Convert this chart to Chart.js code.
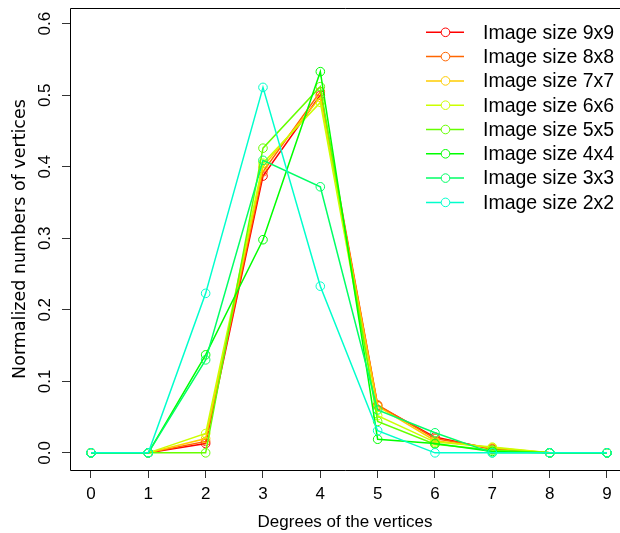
<!DOCTYPE html>
<html>
<head>
<meta charset="utf-8">
<script src="https://cdn.jsdelivr.net/npm/chart.js@4"></script>
<style>
  html, body { margin: 0; padding: 0; background: #fff; }
  #wrap { width: 620px; height: 533px; }
</style>
</head>
<body>
<div id="wrap"><canvas id="grafico"></canvas></div>
<script>
// Dados
const degrees = [0, 1, 2, 3, 4, 5, 6, 7, 8, 9];
const xTicks = [0, 1, 2, 3, 4, 5, 6, 7, 8, 9];
const yTicks = [0, 0.1, 0.2, 0.3, 0.4, 0.5, 0.6];

const seriesNames = ["Image size 9x9", "Image size 8x8", "Image size 7x7", "Image size 6x6",
  "Image size 5x5", "Image size 4x4", "Image size 3x3", "Image size 2x2"];
const seriesColors = ["#FF0000", "#FF6600", "#FFCC00", "#CCFF00",
  "#66FF00", "#00FF00", "#00FF66", "#00FFCC"];

const size9 = [0, 0, 0.013, 0.387, 0.500, 0.066, 0.022, 0.005, 0, 0];
const size8 = [0, 0, 0.016, 0.393, 0.505, 0.067, 0.020, 0.006, 0, 0];
const size7 = [0, 0, 0.020, 0.400, 0.497, 0.065, 0.017, 0.007, 0, 0];
const size6 = [0, 0, 0.027, 0.405, 0.490, 0.052, 0.015, 0.008, 0, 0];
const size5 = [0, 0, 0.000, 0.426, 0.512, 0.044, 0.012, 0.004, 0, 0];
const size4 = [0, 0, 0.137, 0.298, 0.533, 0.019, 0.013, 0.002, 0, 0];
const size3 = [0, 0, 0.130, 0.409, 0.372, 0.060, 0.028, 0.000, 0, 0];
const size2 = [0, 0, 0.223, 0.511, 0.233, 0.031, 0.000, 0.000, 0, 0];

const allSeries = [size9, size8, size7, size6, size5, size4, size3, size2];

const FONT = "'Liberation Sans', Arial, Helvetica, sans-serif";

const datasets = allSeries.map((vals, i) => ({
  label: seriesNames[i],
  data: vals.map((v, k) => ({ x: degrees[k], y: v })),
  borderColor: seriesColors[i],
  backgroundColor: seriesColors[i],
  borderWidth: 1.5,
  pointRadius: 4.3,
  pointBorderWidth: 1,
  pointBackgroundColor: "rgba(0,0,0,0)",
  pointBorderColor: seriesColors[i],
  tension: 0,
  fill: false,
  order: allSeries.length - 1 - i
}));

// tira o padding automatico dos eixos
const noPad = s => { s.paddingTop = 0; s.paddingBottom = 0; s.paddingLeft = 0; s.paddingRight = 0; };

// caixa do grafico (estilo R)
const boxPlugin = {
  id: "box",
  afterDraw(chart) {
    const { ctx, chartArea: a } = chart;
    ctx.save();
    ctx.strokeStyle = "#000";
    ctx.lineWidth = 1;
    ctx.beginPath();
    ctx.rect(Math.round(a.left) + 0.5, Math.round(a.top) + 0.5, a.right - a.left + 10, Math.round(a.bottom - a.top));
    ctx.stroke();
    ctx.restore();
  }
};

// legenda com linha + circulo
const legendPlugin = {
  id: "rlegend",
  afterDraw(chart) {
    const ctx = chart.ctx;
    ctx.save();
    chart.data.datasets.forEach((ds, i) => {
      const y = 32.3 + i * 24.3;
      ctx.strokeStyle = ds.borderColor;
      ctx.lineWidth = 1.5;
      ctx.beginPath();
      ctx.moveTo(426, y);
      ctx.lineTo(464, y);
      ctx.stroke();
      ctx.lineWidth = 1;
      ctx.fillStyle = "#fff";
      ctx.beginPath();
      ctx.arc(445.5, y, 4.3, 0, Math.PI * 2);
      ctx.fill();
      ctx.stroke();
      ctx.fillStyle = "#000";
      ctx.font = "19.5px " + FONT;
      ctx.textBaseline = "middle";
      ctx.textAlign = "left";
      ctx.fillText(ds.label, 483, y + 1);
    });
    ctx.restore();
  }
};

new Chart(document.getElementById("grafico"), {
  type: "line",
  data: { datasets: datasets },
  plugins: [boxPlugin, legendPlugin],
  options: {
    responsive: true,
    maintainAspectRatio: false,
    animation: false,
    layout: { autoPadding: false, padding: { top: 8, right: 0, left: 0, bottom: 0 } },
    plugins: {
      legend: { display: false },
      tooltip: { enabled: false }
    },
    scales: {
      x: {
        type: "linear",
        min: -0.366,
        max: 9.227,
        afterBuildTicks: s => { s.ticks = xTicks.map(v => ({ value: v })); },
        afterFit: s => { s.height = 63; noPad(s); },
        border: { display: false },
        grid: { drawOnChartArea: false, drawTicks: true, tickLength: 8, color: "#333", lineWidth: 1 },
        ticks: { color: "#000", font: { family: FONT, size: 17 }, padding: 6, maxRotation: 0, autoSkip: false },
        title: {
          display: true,
          text: "Degrees of the vertices",
          color: "#000",
          font: { family: FONT, size: 17 },
          padding: { top: 0, bottom: 0 }
        }
      },
      y: {
        min: -0.024,
        max: 0.622,
        afterBuildTicks: s => { s.ticks = yTicks.map(v => ({ value: v })); },
        afterFit: s => { s.width = 70; noPad(s); },
        border: { display: false },
        grid: { drawOnChartArea: false, drawTicks: true, tickLength: 8, color: "#333", lineWidth: 1 },
        ticks: {
          color: "#000",
          font: { family: FONT, size: 17 },
          padding: 5,
          minRotation: 90,
          maxRotation: 90,
          crossAlign: "center",
          callback: v => v.toFixed(1)
        },
        title: {
          display: true,
          text: "Normalized numbers of vertices",
          color: "#000",
          font: { family: "'DejaVu Sans', sans-serif", size: 17.5 },
          padding: { top: 10, bottom: 0 }
        }
      }
    }
  }
});
</script>
</body>
</html>
